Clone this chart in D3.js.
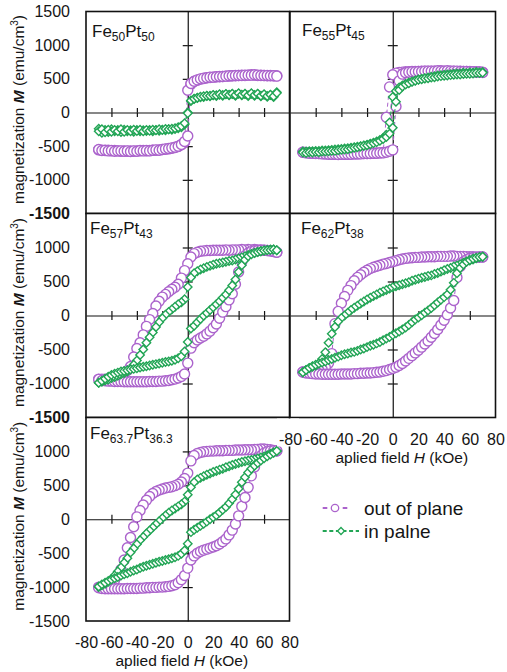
<!DOCTYPE html>
<html><head><meta charset="utf-8">
<script src="https://cdn.jsdelivr.net/npm/d3@7/dist/d3.min.js"></script>
<style>
body{margin:0;background:#fff}
svg{display:block;font-family:"Liberation Sans",Arial,sans-serif}
</style>
</head><body>
<svg id="c" width="507" height="672"></svg>
<script>
// ---------- data ----------
const H = [-70,-67.5,-65,-62.5,-60,-57.5,-55,-52.5,-50,-47.5,-45,-42.5,-40,-37.5,-35,-32.5,-30,-27.5,-25,-22.5,-20,-17.5,-15,-12.5,-10,-7.5,-5,-2.5,0,2.5,5,7.5,10,12.5,15,17.5,20,22.5,25,27.5,30,32.5,35,37.5,40,42.5,45,47.5,50,52.5,55,57.5,60,62.5,65,67.5,70];

const yTicks = [1500,1000,500,0,-500,-1000,-1500];
const xTicks = [-80,-60,-40,-20,0,20,40,60,80];
const innerXTicks = [-60,-40,-20,20,40,60];
const innerYTicks = [-1000,-500,500,1000];
const seriesNames = ["out of plane","in palne"];

// Fe50Pt50
const fe50OopDown = [-555,-560,-565,-560,-570,-565,-570,-575,-570,-575,-570,-575,-570,-570,-565,-570,-565,-560,-560,-555,-550,-545,-540,-530,-520,-505,-480,-440,330,420,460,480,495,505,515,520,525,530,530,535,540,540,545,545,550,555,550,555,560,555,550,555,550,545,550,545,545];
const fe50OopUp = [-550,-565,-560,-570,-565,-575,-570,-570,-575,-570,-580,-570,-575,-565,-570,-565,-570,-560,-555,-560,-550,-540,-535,-525,-515,-500,-475,-430,-350,430,465,485,500,510,515,525,525,530,535,535,540,545,545,550,550,550,555,555,555,560,555,550,550,550,545,545,540];
const fe50IpDown = [-240,-300,-260,-290,-250,-280,-260,-290,-255,-280,-265,-285,-260,-280,-265,-275,-260,-280,-260,-270,-255,-265,-250,-255,-245,-235,-220,-180,0,170,200,215,225,230,245,240,255,245,265,250,270,255,275,250,280,255,275,245,280,250,275,240,265,235,260,230,300];
const fe50IpUp = [-280,-250,-295,-255,-285,-260,-280,-250,-285,-260,-280,-255,-275,-255,-280,-260,-270,-255,-265,-250,-260,-245,-250,-240,-235,-220,-200,-160,-10,180,205,220,235,240,250,250,260,255,270,260,275,265,280,260,285,265,280,255,285,260,280,250,270,245,265,240,290];

// Fe55Pt45
const fe55OopDown = [-590,-595,-600,-605,-605,-610,-610,-615,-615,-620,-620,-620,-620,-620,-620,-615,-615,-615,-610,-610,-610,-605,-605,-600,-600,-595,-70,380,560,585,595,600,605,605,610,610,610,615,615,615,615,615,615,620,615,615,615,615,610,615,610,610,610,605,605,605,600];
const fe55OopUp = [-590,-600,-605,-605,-610,-610,-615,-615,-620,-620,-620,-625,-620,-620,-620,-620,-615,-615,-615,-610,-610,-610,-605,-605,-600,-600,-590,-575,-555,90,470,570,590,600,605,605,610,610,615,615,615,615,620,615,615,620,615,615,615,610,610,610,605,605,600,600,595];
const fe55IpDown = [-580,-580,-575,-575,-570,-570,-565,-565,-560,-555,-550,-545,-540,-535,-530,-525,-515,-510,-500,-490,-480,-465,-450,-430,-410,-380,-330,-150,230,320,370,400,425,445,460,475,490,500,510,520,530,540,550,555,560,565,570,575,580,580,590,585,595,590,600,595,600];
const fe55IpUp = [-595,-600,-590,-595,-585,-590,-580,-580,-575,-570,-570,-560,-555,-550,-545,-535,-525,-515,-505,-495,-485,-470,-455,-440,-420,-395,-365,-315,-225,160,335,385,415,435,455,470,485,495,505,510,520,525,535,540,545,550,555,560,565,565,570,575,575,580,585,585,590];

// Fe57Pt43
const fe57OopDown = [-935,-935,-935,-935,-930,-920,-900,-880,-850,-810,-750,-610,-485,-400,-285,-160,-60,30,140,210,270,310,350,385,415,460,550,660,760,860,910,930,945,950,955,955,960,960,960,960,965,960,965,965,965,970,965,970,965,970,965,965,960,955,950,940,930];
const fe57OopUp = [-940,-955,-960,-965,-965,-970,-970,-970,-975,-975,-975,-975,-975,-975,-975,-975,-970,-970,-970,-965,-965,-960,-955,-945,-935,-920,-895,-860,-700,-480,-400,-360,-330,-305,-270,-230,-180,-125,-40,50,130,230,320,460,640,790,880,920,940,950,955,960,960,955,950,940,930];
const fe57IpDown = [-990,-975,-955,-940,-920,-905,-885,-865,-845,-825,-785,-725,-660,-580,-500,-400,-320,-250,-170,-100,-40,10,50,90,130,165,195,240,420,560,620,650,675,695,715,730,745,760,770,780,790,800,810,825,840,855,870,890,905,920,935,945,955,965,970,970,960];
const fe57IpUp = [-990,-960,-930,-900,-875,-855,-840,-825,-815,-805,-795,-785,-775,-765,-755,-745,-735,-725,-715,-705,-695,-685,-675,-665,-650,-630,-600,-530,-390,-190,-150,-100,-50,-5,35,80,120,165,210,260,310,370,440,530,640,740,820,870,900,920,935,945,955,960,965,970,960];

// Fe62Pt38
const fe62OopDown = [-830,-830,-825,-820,-815,-805,-790,-760,-700,-560,-120,60,180,280,370,440,510,560,600,635,665,690,710,725,740,755,765,780,790,805,820,830,840,845,850,855,855,860,860,865,865,865,870,870,870,870,875,875,870,870,870,865,865,865,860,860,860];
const fe62OopUp = [-830,-845,-850,-855,-860,-860,-865,-865,-865,-865,-865,-865,-860,-860,-860,-860,-855,-855,-850,-850,-845,-845,-840,-835,-830,-820,-810,-795,-780,-760,-735,-705,-670,-630,-590,-550,-510,-465,-420,-375,-320,-265,-205,-140,-70,10,110,220,560,720,790,820,840,850,855,860,860];
const fe62IpDown = [-835,-800,-775,-755,-735,-705,-640,-540,-400,-270,-170,-90,-35,0,40,80,115,145,175,205,235,260,285,310,335,355,375,395,415,430,445,460,475,490,510,525,540,555,565,580,590,610,625,645,665,685,700,720,735,755,775,795,810,825,840,855,865];
const fe62IpUp = [-835,-800,-770,-745,-725,-705,-690,-675,-655,-640,-620,-605,-585,-570,-560,-545,-535,-520,-500,-485,-465,-445,-430,-410,-390,-365,-340,-315,-285,-260,-235,-205,-175,-140,-100,-60,-30,5,40,75,110,150,190,230,270,310,380,480,620,700,750,790,815,835,850,860,865];

// Fe63.7Pt36.3
const fe637OopDown = [-1000,-1000,-995,-985,-960,-900,-830,-740,-600,-420,-270,-110,35,130,210,280,335,380,410,430,445,460,470,480,495,515,550,600,680,860,940,970,985,995,1000,1005,1005,1010,1010,1010,1015,1015,1015,1020,1020,1020,1025,1025,1025,1030,1030,1035,1035,1030,1025,1015,1005];
const fe637OopUp = [-1010,-1020,-1025,-1025,-1025,-1025,-1025,-1025,-1025,-1020,-1020,-1020,-1020,-1015,-1015,-1010,-1010,-1005,-1005,-1000,-1000,-995,-990,-980,-965,-935,-890,-830,-720,-600,-540,-500,-475,-455,-440,-425,-410,-390,-365,-330,-290,-230,-160,-70,50,190,320,470,640,770,870,935,975,995,1005,1010,1010];
const fe637IpDown = [-1000,-975,-950,-920,-880,-830,-770,-710,-640,-575,-490,-430,-370,-310,-260,-210,-165,-120,-75,-30,15,55,95,130,160,190,220,260,360,470,545,585,610,635,655,675,695,710,730,745,765,780,800,815,830,845,855,865,875,885,895,910,925,945,965,985,1005];
const fe637IpUp = [-990,-960,-935,-910,-890,-870,-850,-830,-810,-795,-775,-755,-740,-720,-700,-685,-670,-655,-640,-625,-615,-600,-590,-575,-560,-540,-510,-460,-360,-190,-155,-125,-95,-65,-35,0,30,60,100,140,180,235,295,365,450,545,620,690,745,790,830,865,900,930,955,980,1005];

// ---------- layout ----------
const PURPLE = "#ab63cc", GREEN = "#22a555";
const cols = [[86, 289.5], [290, 495.5]];
const rows = [[11.5, 213.5], [213.5, 417.5], [417.5, 621]];

const panels = [
  {name:["Fe","50","Pt","50"], col:0, row:0, oop:[fe50OopDown, fe50OopUp], ip:[fe50IpDown, fe50IpUp], yLab:true, xLab:false, tdx:6, tdy:25},
  {name:["Fe","55","Pt","45"], col:1, row:0, oop:[fe55OopDown, fe55OopUp], ip:[fe55IpDown, fe55IpUp], yLab:false, xLab:false, tdx:12, tdy:24},
  {name:["Fe","57","Pt","43"], col:0, row:1, oop:[fe57OopDown, fe57OopUp], ip:[fe57IpDown, fe57IpUp], yLab:true, xLab:false, tdx:4, tdy:20.5},
  {name:["Fe","62","Pt","38"], col:1, row:1, oop:[fe62OopDown, fe62OopUp], ip:[fe62IpDown, fe62IpUp], yLab:false, xLab:true, tdx:11, tdy:20.5, titleShift:9},
  {name:["Fe","63.7","Pt","36.3"], col:0, row:2, oop:[fe637OopDown, fe637OopUp], ip:[fe637IpDown, fe637IpUp], yLab:true, xLab:true, tdx:4, tdy:21, titleShift:-6}
];

const svg = d3.select("#c");
const TXT = "#151515";
const fmt = d => String(d);

function loopPoints(down, up) {
  // descending branch (+70 -> -70), then ascending branch (-70 -> +70)
  const pts = [];
  for (let i = H.length - 1; i >= 0; i--) pts.push([H[i], down[i]]);
  for (let i = 0; i < H.length; i++) pts.push([H[i], up[i]]);
  return pts;
}

panels.forEach(p => {
  const [x0, x1] = cols[p.col], [y0, y1] = rows[p.row];
  p.x = d3.scaleLinear().domain([-80, 80]).range([x0, x1]);
  p.y = d3.scaleLinear().domain([-1500, 1500]).range([y1, y0]);
});

// pass 1: frames, zero axes, data
panels.forEach(p => {
  const {x, y} = p;
  const g = svg.append("g");
  g.append("rect").attr("x", x.range()[0]).attr("y", y.range()[1])
    .attr("width", x.range()[1] - x.range()[0]).attr("height", y.range()[0] - y.range()[1])
    .attr("fill", "#fff").attr("stroke", "#111").attr("stroke-width", 1.6);

  const styleAxis = a => { a.selectAll("path,line").attr("stroke", "#111").attr("stroke-width", 1.2); a.selectAll("text").remove(); };
  g.append("g").attr("transform", `translate(0,${y(0)})`)
    .call(d3.axisBottom(x).tickValues(innerXTicks).tickSize(4.5).tickSizeOuter(0).tickFormat("")).call(styleAxis);
  g.append("g").attr("transform", `translate(0,${y(0)})`)
    .call(d3.axisTop(x).tickValues(innerXTicks).tickSize(4.5).tickSizeOuter(0).tickFormat("")).call(styleAxis)
    .select(".domain").remove();
  g.append("g").attr("transform", `translate(${x(0)},0)`)
    .call(d3.axisLeft(y).tickValues(innerYTicks).tickSize(5).tickSizeOuter(0).tickFormat("")).call(styleAxis);
  g.append("g").attr("transform", `translate(${x(0)},0)`)
    .call(d3.axisRight(y).tickValues(innerYTicks).tickSize(5).tickSizeOuter(0).tickFormat("")).call(styleAxis)
    .select(".domain").remove();

  const line = d3.line().x(d => x(d[0])).y(d => y(d[1]));
  const oopPts = loopPoints(p.oop[0], p.oop[1]);
  const ipPts = loopPoints(p.ip[0], p.ip[1]);

  g.append("path").attr("d", line(oopPts)).attr("fill", "none").attr("stroke", PURPLE)
    .attr("stroke-width", 1).attr("stroke-dasharray", "4,3");
  g.selectAll(".oop").data(oopPts).join("circle")
    .attr("cx", d => x(d[0])).attr("cy", d => y(d[1])).attr("r", 5)
    .attr("fill", "#fff").attr("stroke", PURPLE).attr("stroke-width", 1.4);

  g.append("path").attr("d", line(ipPts)).attr("fill", "none").attr("stroke", GREEN)
    .attr("stroke-width", 1).attr("stroke-dasharray", "4,3");
  const sq = d3.symbol(d3.symbolSquare, 36);
  g.selectAll(".ip").data(ipPts).join("path")
    .attr("d", sq).attr("transform", d => `translate(${x(d[0])},${y(d[1])}) rotate(45)`)
    .attr("fill", "#fff").attr("stroke", GREEN).attr("stroke-width", 1.4);

  // title
  const t = g.append("text").attr("x", x.range()[0] + p.tdx).attr("y", y.range()[1] + p.tdy)
    .attr("font-size", 17).attr("fill", TXT);
  t.append("tspan").text(p.name[0]);
  t.append("tspan").attr("font-size", 12).attr("dy", 4).text(p.name[1]);
  t.append("tspan").attr("dy", -4).text(p.name[2]);
  t.append("tspan").attr("font-size", 12).attr("dy", 4).text(p.name[3]);
});

// pass 2: labels
panels.forEach(p => {
  const {x, y} = p;
  if (p.yLab) {
    // top label of lower rows coincides with the "-1500" of the panel above
    const vals = p.row === 0 ? yTicks : yTicks.filter(v => v !== 1500);
    const a = svg.append("g").attr("transform", `translate(73,0)`)
      .call(d3.axisLeft(y).tickValues(vals).tickFormat(fmt).tickSize(0).tickPadding(3));
    a.select(".domain").remove();
    a.selectAll("text").attr("font-size", 16).attr("font-family", null).attr("fill", TXT);
    a.selectAll("text").filter(d => d === -1500 && p.row < 2).attr("font-weight", "bold");
    const cy = (y.range()[0] + y.range()[1]) / 2 - 3;
    const t = svg.append("text").attr("transform", `translate(24,${cy}) rotate(-90)`)
      .attr("text-anchor", "middle").attr("font-size", 15.5).attr("fill", TXT);
    t.append("tspan").text("magnetization ");
    t.append("tspan").attr("font-weight", "bold").attr("font-style", "italic").text("M");
    t.append("tspan").text(" (emu/cm");
    t.append("tspan").attr("font-size", 10).attr("dy", -6).text("3");
    t.append("tspan").attr("dy", 6).text(")");
  }
  if (p.xLab) {
    const yb = y.range()[0];
    if (p.col === 1) {
      svg.append("rect").attr("x", 277).attr("y", yb + 1).attr("width", 22).attr("height", 28).attr("fill", "#fff");
    }
    const a = svg.append("g").attr("transform", `translate(0,${yb})`)
      .call(d3.axisBottom(x).tickValues(xTicks).tickFormat(fmt).tickSize(0).tickPadding(16));
    a.select(".domain").remove();
    a.selectAll("text").attr("font-size", 16).attr("font-family", null).attr("fill", TXT);
    const cx = (x.range()[0] + x.range()[1]) / 2 + (p.titleShift || 0);
    const t = svg.append("text").attr("x", cx).attr("y", yb + 45)
      .attr("text-anchor", "middle").attr("font-size", 15.5).attr("fill", TXT);
    t.append("tspan").text("aplied field ");
    t.append("tspan").attr("font-style", "italic").text("H");
    t.append("tspan").text(" (kOe)");
  }
});

// legend
const lg = svg.append("g");
const legendRows = [
  {name: seriesNames[0], color: PURPLE, y: 508, type: "circle", dash: "4.6,15.4", lx: [322.7, 347.3], mx: 335},
  {name: seriesNames[1], color: GREEN, y: 531, type: "diamond", dash: "4,2.6", lx: [322.7, 359], mx: 341}
];
legendRows.forEach(r => {
  lg.append("line").attr("x1", r.lx[0]).attr("x2", r.lx[1]).attr("y1", r.y).attr("y2", r.y)
    .attr("stroke", r.color).attr("stroke-width", 2).attr("stroke-dasharray", r.dash);
  if (r.type === "circle") {
    lg.append("circle").attr("cx", r.mx).attr("cy", r.y).attr("r", 3.7)
      .attr("fill", "#fff").attr("stroke", r.color).attr("stroke-width", 1.3);
  } else {
    lg.append("path").attr("d", d3.symbol(d3.symbolSquare, 24))
      .attr("transform", `translate(${r.mx},${r.y}) rotate(45)`)
      .attr("fill", "#fff").attr("stroke", r.color).attr("stroke-width", 1.3);
  }
  lg.append("text").attr("x", 364).attr("y", r.y).attr("dy", "0.35em")
    .attr("font-size", 19).attr("fill", TXT).text(r.name);
});

// sanity check of array lengths
panels.forEach(p => [...p.oop, ...p.ip].forEach(a => { if (a.length !== H.length) throw new Error("length mismatch " + p.name.join("") + " " + a.length); }));
</script>
</body></html>
